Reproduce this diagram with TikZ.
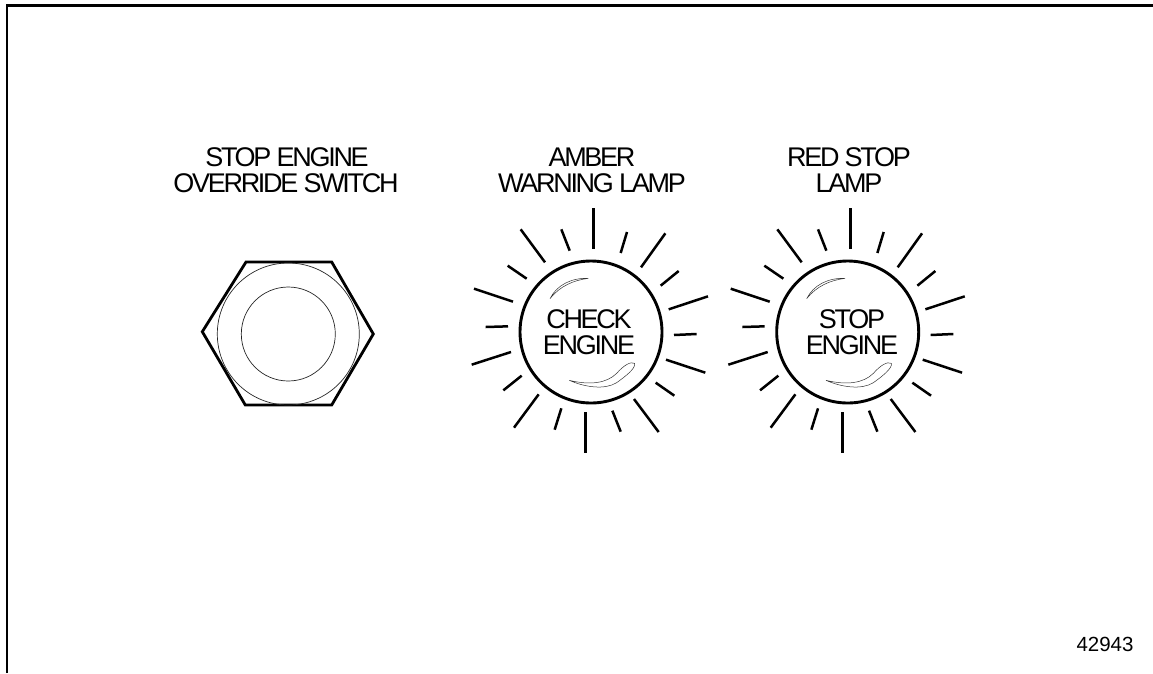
\documentclass[tikz,border=0pt]{standalone}
\usepackage{fontspec}
\setmainfont{Liberation Sans}
\newcommand{\ray}[4]{\draw[rayline] ({(#1)/3},{(#2)/3}) -- ({(#3)/3},{(#4)/3});}
\newcommand{\lampbody}{%
  \draw[lampring] (393/3,396/3) circle (71);
  \ray{401}{25}{401}{148}\ray{304}{88}{329}{152}\ray{182}{88}{255}{187}
  \ray{143}{197}{200}{236}\ray{42}{266}{159}{305}\ray{77}{381}{144}{379}
  \ray{35}{494}{153}{456}\ray{130}{571}{185}{527}\ray{162}{683}{236}{583}
  \ray{284}{689}{304}{625}\ray{377}{758}{377}{637}\ray{482}{695}{457}{632}
  \ray{596}{696}{522}{597}\ray{643}{587}{587}{548}\ray{736}{518}{618}{479}
  \ray{710}{402}{642}{405}\ray{744}{289}{626}{328}\ray{656}{213}{602}{257}
  \ray{543}{202}{616}{100}\ray{482}{159}{501}{96}
  \draw[glint] (270/3,296/3) .. controls (290/3,255/3) and (335/3,233/3) .. (385/3,235/3)
     .. controls (340/3,241/3) and (300/3,258/3) .. (270/3,296/3);
  \draw[glint] (328/3,541/3) .. controls (390/3,556/3) and (440/3,550/3) .. (470/3,520/3)
     .. controls (490/3,497/3) and (512/3,483/3) .. (524/3,490/3)
     .. controls (528/3,505/3) and (495/3,530/3) .. (470/3,548/3)
     .. controls (435/3,570/3) and (375/3,562/3) .. (328/3,541/3);
}
\tikzset{
  x=1pt,y=-1pt,
  rayline/.style={line width=2.5pt,black,line cap=butt},
  lampring/.style={line width=2.9pt,black},
  glint/.style={line width=0.5pt,black!80},
  hexline/.style={line width=2.8pt,black,line join=miter},
  thinring/.style={line width=0.7pt,black!85},
  frameline/.style={line width=2.8pt,black},
  label/.style={font=\fontsize{27}{29}\selectfont,align=center,inner sep=0pt,outer sep=0pt,anchor=base},
  lampface/.style={font=\fontsize{27}{29}\selectfont,align=center,inner sep=0pt,outer sep=0pt,anchor=base},
  idnum/.style={font=\fontsize{20.5}{22}\selectfont,inner sep=0pt,anchor=base},
}
\newcommand{\tight}[1]{\addfontfeature{LetterSpace=-8.5}#1}
\begin{document}
\begin{tikzpicture}
\useasboundingbox (0,0) rectangle (1153,673);
\draw[frameline] (7,673) -- (7,5.5) -- (1153,5.5);
% switch
\draw[hexline] (246,262) -- (331.7,262) -- (373.3,334) -- (331.7,405) -- (245.3,405) -- (202.3,331.7) -- cycle;
\draw[thinring] (288.3,334) circle (71);
\draw[thinring] (288.3,334) circle (47);
\node[label] (h1a) at (287,166) {\tight{STOP ENGINE}};
\node[label] (h1b) at (286,192) {\tight{OVERRIDE SWITCH}};
\node[label] (h2a) at (592,166) {\tight{AMBER}};
\node[label] (h2b) at (592,192) {\tight{WARNING LAMP}};
\node[label] (h3a) at (849,166) {\tight{RED STOP}};
\node[label] (h3b) at (849,192) {\tight{LAMP}};
\begin{scope}[shift={(460,200)}]\lampbody\end{scope}
\begin{scope}[shift={(716.7,200)}]\lampbody\end{scope}
\node[lampface] (c1) at (589,328) {\tight{CHECK}};
\node[lampface] (c2) at (589,354) {\tight{ENGINE}};
\node[lampface] (s1) at (852,328) {\tight{STOP}};
\node[lampface] (s2) at (852,354) {\tight{ENGINE}};
\node[idnum] (num) at (1105,651) {42943};
\end{tikzpicture}
\end{document}
